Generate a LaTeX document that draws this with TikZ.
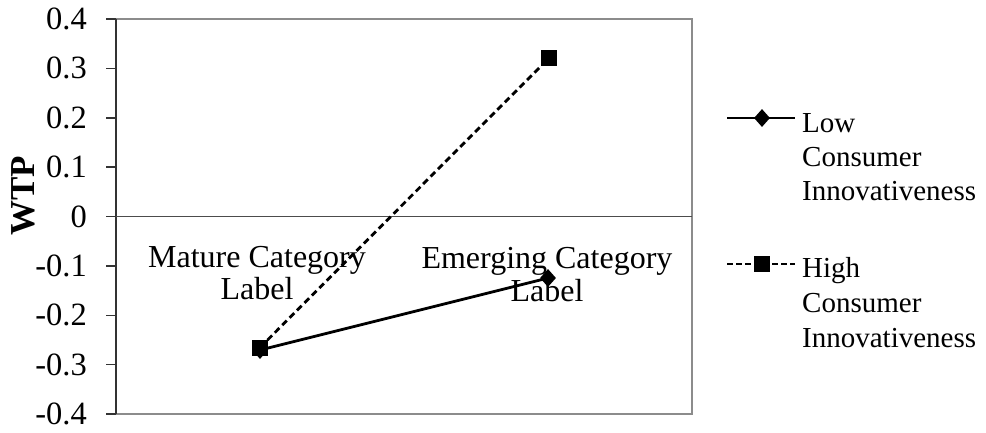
\documentclass[tikz,border=0pt]{standalone}
\usepackage{fontspec}
\setmainfont{Liberation Serif}
\usetikzlibrary{shapes.geometric}
\begin{document}
\begin{tikzpicture}[x=1pt,y=-1pt,
  axlab/.style={font=\fontsize{32.5}{34}\selectfont, inner sep=0pt},
  catlab/.style={font=\fontsize{32}{34}\selectfont, inner sep=0pt, anchor=base},
  leglab/.style={font=\fontsize{29}{34}\selectfont, inner sep=0pt, anchor=base west},
  lowline/.style={line width=2.8pt, black},
  highline/.style={line width=2.8pt, black, dash pattern=on 6.5pt off 4pt},
  dmark/.style={diamond, fill=black, inner sep=0pt, minimum width=16pt, minimum height=18pt},
  smark/.style={rectangle, fill=black, inner sep=0pt, minimum size=16pt}]
\useasboundingbox (0,0) rectangle (986,432);
% plot frame
\draw[line width=2.4pt, black!45] (116,19) rectangle (692,414);
\draw[line width=1.6pt, black!80] (116,19) -- (116,414);
\draw[line width=1.5pt, black!70] (116,216.5) -- (692,216.5);
% ticks and labels
\foreach \v/\t [count=\i from 0] in {0.4/0.4,0.3/0.3,0.2/0.2,0.1/0.1,0/0,-0.1/-0.1,-0.2/-0.2,-0.3/-0.3,-0.4/-0.4}{
  \pgfmathsetmacro{\yy}{216.5-\v*493.75}
  \draw[line width=1.5pt, black!80] (106,\yy) -- (116,\yy);
  \node[axlab, anchor=east] (tick\i) at (87,\yy) {\t};
}
% y label
\node[font=\fontsize{35}{38}\selectfont\bfseries, rotate=90, inner sep=0pt] (ylab) at (23,196) {WTP};
% category labels
\node[catlab] (mat1) at (257,267) {Mature Category};
\node[catlab] (mat2) at (257,299) {Label};
\node[catlab] (emg1) at (547,268) {Emerging Category};
\node[catlab] (emg2) at (547,301) {Label};
% data
\coordinate (lm) at (260,350);
\coordinate (le) at (548,278);
\coordinate (hm) at (260,347.5);
\coordinate (he) at (549,58);
\draw[lowline] (lm) -- (le);
\node[dmark] (lmM) at (lm) {};
\node[dmark] (leM) at (le) {};
\draw[highline] (hm) -- (he);
\node[smark] (hmM) at (hm) {};
\node[smark] (heM) at (he) {};
% legend
\coordinate (l1a) at (727,118);
\coordinate (l1b) at (795,118);
\coordinate (l2a) at (727,264);
\coordinate (l2b) at (795,264);
\draw[lowline] (l1a) -- (l1b);
\node[dmark] (l1m) at (762,118) {};
\draw[highline, dash pattern=on 5.5pt off 3.5pt] (l2a) -- (l2b);
\node[smark] (l2m) at (762,264) {};
\node[leglab] (lg1a) at (802,132) {Low};
\node[leglab] (lg1b) at (802,166) {Consumer};
\node[leglab] (lg1c) at (802,200) {Innovativeness};
\node[leglab] (lg2a) at (802,277) {High};
\node[leglab] (lg2b) at (802,312) {Consumer};
\node[leglab] (lg2c) at (802,347) {Innovativeness};
\end{tikzpicture}
\end{document}
